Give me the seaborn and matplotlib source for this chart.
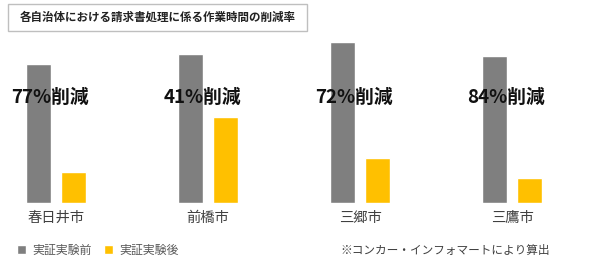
import pandas as pd
import seaborn as sns
import matplotlib.pyplot as plt
from matplotlib.patches import Rectangle

# values (common scale, arbitrary units)
cities = ['春日井市', '前橋市', '三郷市', '三鷹市']
before = [139, 149, 161, 147]
after = [31, 86, 45, 25]
reduction_labels = ['77%削減', '41%削減', '72%削減', '84%削減']
phases = ['実証実験前', '実証実験後']
colors = ['#7f7f7f', '#ffc000']
title = '各自治体における請求書処理に係る作業時間の削減率'
note = '※コンカー・インフォマートにより算出'

df = pd.DataFrame({
    'city': cities * 2,
    'phase': [phases[0]] * 4 + [phases[1]] * 4,
    'value': before + after,
})

sns.set_style('white')
plt.rcParams['font.family'] = ['Noto Sans CJK JP', 'DejaVu Sans']

W, H = 590, 269
fig = plt.figure(figsize=(W / 100, H / 100), dpi=100)
ax = fig.add_axes([0, 1 - 203 / H, 1, 165 / H])

sns.barplot(data=df, x='city', y='value', hue='phase', palette=colors,
            width=0.46, gap=0.28, ax=ax, saturation=1, errorbar=None)

ax.set_ylim(0, 165)
ax.set_xlim(-0.368, 3.512)
sns.despine(ax=ax, left=True, bottom=True)
ax.set_yticks([])
ax.set_xlabel('')
ax.set_ylabel('')
ax.tick_params(axis='x', length=0, pad=5.5, labelsize=10.3, labelcolor='#404040')

# reduction labels
for i, lab in enumerate(reduction_labels):
    ax.text(i - 0.04, 106, lab, ha='center', va='center', fontsize=13.5,
            fontweight='bold', color='#111111')

# legend at bottom left
ax.legend(loc='center left', bbox_to_anchor=(17 / W, 1 - 250 / H),
          bbox_transform=fig.transFigure, ncol=2, frameon=False,
          fontsize=8.6, handlelength=0.75, handleheight=0.75,
          handletextpad=0.55, columnspacing=1.0, labelcolor='#595959',
          borderaxespad=0, borderpad=0)

fig.text(340 / W, 1 - 250 / H, note, ha='left', va='center',
         fontsize=8.4, color='#404040')

# boxed title
fig.patches.append(Rectangle((8 / W, 1 - 31 / H), 299 / W, 27 / H,
                             transform=fig.transFigure, fill=False,
                             edgecolor='#bfbfbf', linewidth=1))
fig.text(158 / W, 1 - 17.5 / H, title, ha='center', va='center',
         fontsize=8.3, fontweight='bold', color='#222222')

fig.savefig('out.png', dpi=100)
